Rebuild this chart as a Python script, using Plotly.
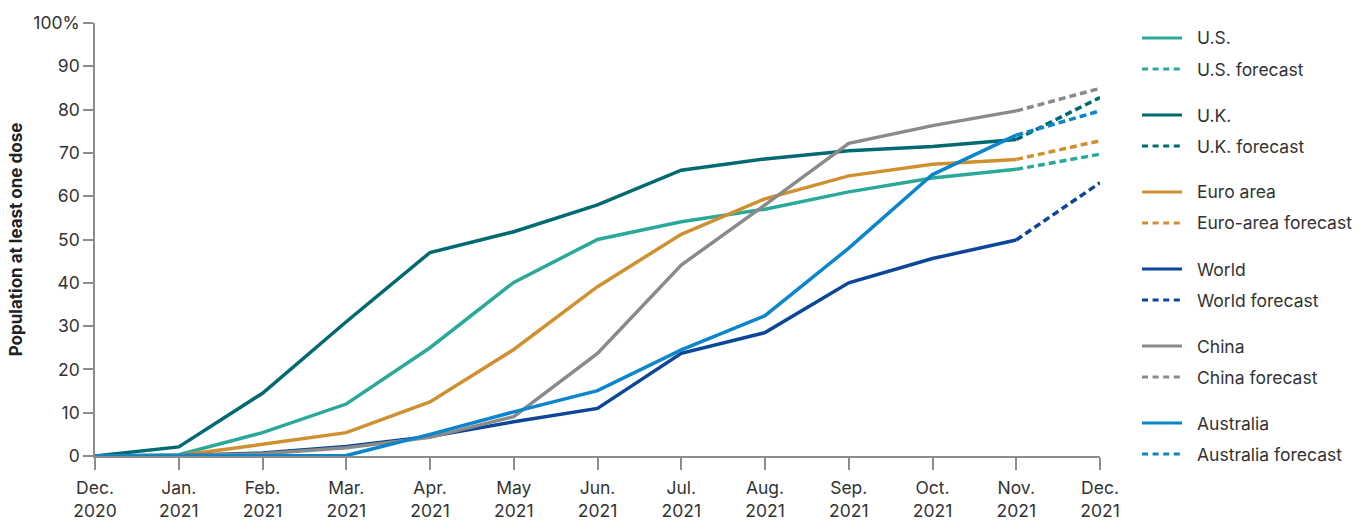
import plotly.graph_objects as go

# Month-end dates, Dec. 2020 through Dec. 2021
months = ["Dec.<br>2020", "Jan.<br>2021", "Feb.<br>2021", "Mar.<br>2021", "Apr.<br>2021",
          "May<br>2021", "Jun.<br>2021", "Jul.<br>2021", "Aug.<br>2021", "Sep.<br>2021",
          "Oct.<br>2021", "Nov.<br>2021", "Dec.<br>2021"]

# Share of population with at least one dose (%), Dec. 2020 - Nov. 2021
us = [0, 0.3, 5.4, 12.0, 25.0, 40.1, 50.0, 54.1, 57.0, 61.0, 64.2, 66.2]
uk = [0, 2.1, 14.5, 31.0, 47.0, 51.8, 58.0, 66.0, 68.6, 70.5, 71.5, 73.1]
euro = [0, 0.1, 2.7, 5.4, 12.5, 24.6, 39.1, 51.2, 59.4, 64.7, 67.4, 68.5]
world = [0, 0.1, 0.7, 2.2, 4.5, 7.9, 11.0, 23.7, 28.5, 40.0, 45.6, 49.9]
china = [0, 0.1, 0.5, 1.9, 4.3, 9.1, 23.7, 44.1, 58.0, 72.2, 76.3, 79.7]
australia = [0, 0, 0, 0.1, 5.0, 10.2, 15.1, 24.5, 32.4, 48.0, 65.0, 74.1]

# Year-end forecasts (Dec. 2021, %)
forecast = {"U.S.": 69.7, "U.K.": 82.8, "Euro area": 72.8,
            "World": 63.1, "China": 84.9, "Australia": 79.7}

series = [
    ("U.S.", "U.S. forecast", us, "#2aa99b"),
    ("U.K.", "U.K. forecast", uk, "#006a72"),
    ("Euro area", "Euro-area forecast", euro, "#cf912f"),
    ("World", "World forecast", world, "#0c4699"),
    ("China", "China forecast", china, "#8a8a8a"),
    ("Australia", "Australia forecast", australia, "#0b86cd"),
]

y_ticks = [0, 10, 20, 30, 40, 50, 60, 70, 80, 90, 100]
y_ticktext = ["0", "10", "20", "30", "40", "50", "60", "70", "80", "90", "100%"]

FONT = "Inter"
FSIZE = 17.5
TEXT = "#333333"
AXIS = "#8c8c8c"
W, H = 1369, 523
ML, MR, MT, MB = 95, 269, 23, 67

x_idx = list(range(len(months)))

fig = go.Figure()

for name, fname, vals, color in series:
    fig.add_trace(go.Scatter(
        x=x_idx[:len(vals)], y=vals, mode="lines", name=name,
        line=dict(color=color, width=3.5), cliponaxis=False, showlegend=False,
    ))

for name, fname, vals, color in series:
    n = len(vals)
    fig.add_trace(go.Scatter(
        x=[x_idx[n - 1], x_idx[n]], y=[vals[-1], forecast[name]], mode="lines", name=fname,
        line=dict(color=color, width=3.5, dash="7px,4px"), cliponaxis=False, showlegend=False,
    ))

# Legend drawn in pixel space on the right
def px_x(px):
    return (px - ML) / (W - ML - MR)

def px_y(py):
    return 1 - (py - MT) / (H - MT - MB)

shapes = []
annotations = []
row_y = 38
for i, (name, fname, vals, color) in enumerate(series):
    for label, dash in ((name, "solid"), (fname, "6px,4.6px")):
        shapes.append(dict(
            type="line", xref="paper", yref="paper",
            x0=px_x(1142), x1=px_x(1182), y0=px_y(row_y), y1=px_y(row_y),
            line=dict(color=color, width=3, dash=dash),
        ))
        annotations.append(dict(
            xref="paper", yref="paper", x=px_x(1195), y=px_y(row_y),
            xanchor="left", yanchor="middle", text=label, showarrow=False,
            font=dict(family=FONT, size=FSIZE, color=TEXT),
        ))
        row_y += 31
    row_y += 15

fig.update_layout(
    width=W, height=H,
    margin=dict(l=ML, r=MR, t=MT, b=MB, pad=0, autoexpand=False),
    paper_bgcolor="white", plot_bgcolor="white",
    font=dict(family=FONT, size=FSIZE, color=TEXT),
    shapes=shapes, annotations=annotations,
    showlegend=False,
    xaxis=dict(
        range=[0, 12], tickmode="array", tickvals=x_idx, ticktext=months,
        showgrid=False, zeroline=False, showline=True, linecolor=AXIS, linewidth=1.5,
        ticks="outside", ticklen=12, tickwidth=1.5, tickcolor=AXIS, ticklabelstandoff=3,
        tickfont=dict(family=FONT, size=FSIZE, color=TEXT), fixedrange=True,
        automargin=False,
    ),
    yaxis=dict(
        range=[0, 100], tickmode="array", tickvals=y_ticks, ticktext=y_ticktext,
        showgrid=False, zeroline=False, showline=True, linecolor=AXIS, linewidth=1.5,
        ticks="outside", ticklen=10, tickwidth=1.5, tickcolor=AXIS,
        tickfont=dict(family=FONT, size=FSIZE, color=TEXT),
        title=dict(text="<b>Population at least one dose</b>", standoff=6,
                   font=dict(family=FONT, size=17, color="#222222")),
        fixedrange=True, automargin=False,
    ),
)

fig.write_html("out.html", config={"displayModeBar": False})
